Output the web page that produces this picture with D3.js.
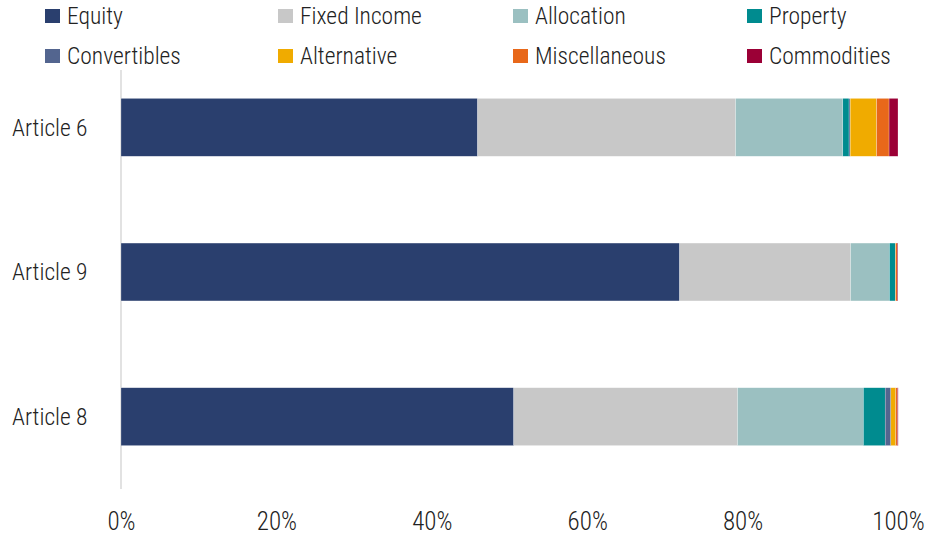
<!DOCTYPE html>
<html><head><meta charset="utf-8">
<script src="https://cdn.jsdelivr.net/npm/d3@7"></script>
<style>
body{margin:0;background:#fff;}
text{font-family:"Roboto Condensed","Liberation Sans Narrow","Arial Narrow",sans-serif;font-weight:300;fill:#222;}
</style></head>
<body><svg id="c" width="939" height="536"></svg>
<script>
const categories = ["Article 6","Article 9","Article 8"];
const seriesNames = ["Equity","Fixed Income","Allocation","Property","Convertibles","Alternative","Miscellaneous","Commodities"];
const colors = ["#2a3f6e","#c8c8c8","#9bc0c1","#008b8f","#53658f","#f0ab00","#e8681a","#9b0036"];
const equity      = [45.9, 71.9, 50.55];
const fixedIncome = [33.2, 22.0, 28.8];
const allocation  = [13.8, 5.0, 16.2];
const property    = [0.8, 0.75, 2.8];
const convertibles= [0.15, 0.0, 0.73];
const alternative = [3.4, 0.05, 0.64];
const misc        = [1.6, 0.2, 0.2];
const commodities = [1.15, 0.1, 0.1];
const tickValues = [0,20,40,60,80,100];

const seriesValues = [equity,fixedIncome,allocation,property,convertibles,alternative,misc,commodities];
const rows = categories.map((c,i)=>{const o={cat:c}; seriesNames.forEach((s,j)=>o[s]=seriesValues[j][i]); return o;});
const stacked = d3.stack().keys(seriesNames)(rows);

const svg = d3.select("#c");
const x = d3.scaleLinear().domain([0,100]).range([121,898]);
const y = d3.scaleBand().domain(categories).range([55,489]).paddingInner(0.6).paddingOuter(0.3);
const color = d3.scaleOrdinal().domain(seriesNames).range(colors);
const FF = '"Roboto Condensed","Liberation Sans Narrow",sans-serif';

svg.append("line").attr("x1",x(0)).attr("x2",x(0)).attr("y1",70).attr("y2",489)
  .attr("stroke","#d9d9d9").attr("stroke-width",1.5);

svg.append("g").selectAll("g").data(stacked).join("g").attr("fill",d=>color(d.key))
  .selectAll("rect").data(d=>d).join("rect")
  .attr("x",d=>x(d[0])).attr("width",d=>Math.max(0,x(d[1])-x(d[0])))
  .attr("y",d=>y(d.data.cat)).attr("height",y.bandwidth())
  .attr("stroke","#fff").attr("stroke-width",0.4).attr("stroke-opacity",0.6);

const xa = svg.append("g").attr("transform","translate(0,521)")
  .call(d3.axisBottom(x).tickValues(tickValues).tickFormat(d=>d+"%").tickSize(0).tickPadding(0));
xa.select(".domain").remove();
xa.selectAll("text").attr("font-size",25).attr("dy","0.35em").attr("y",0).attr("fill","#222")
  .style("font-family",FF).style("font-weight",300);

const ya = svg.append("g").attr("transform","translate(12,0)")
  .call(d3.axisLeft(y).tickSize(0).tickPadding(0));
ya.select(".domain").remove();
ya.selectAll("text").attr("text-anchor","start").attr("x",0).attr("font-size",23.5).attr("dy","0.35em").attr("fill","#222")
  .style("font-family",FF).style("font-weight",300);

const colX = [45,278,513,747], rowY=[16,56];
const lg = svg.append("g");
seriesNames.forEach((s,i)=>{
  const g = lg.append("g").attr("transform",`translate(${colX[i%4]},${rowY[Math.floor(i/4)]})`);
  g.append("rect").attr("x",0).attr("y",-7).attr("width",15).attr("height",14).attr("fill",colors[i]);
  g.append("text").attr("x",22).attr("y",0).attr("dy","0.35em").attr("font-size",23.5).text(s);
});
</script></body></html>
